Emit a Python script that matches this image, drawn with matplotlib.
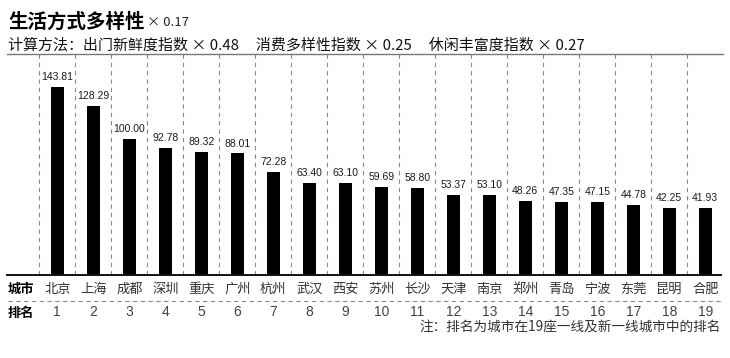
#!/usr/bin/env python3
"""Lifestyle diversity index for 19 tier-1 / new tier-1 cities (bar chart)."""

import matplotlib
matplotlib.use("Agg")
import matplotlib.pyplot as plt
from matplotlib import font_manager
from matplotlib.lines import Line2D
from matplotlib.transforms import blended_transform_factory

CITIES = ["北京", "上海", "成都", "深圳", "重庆", "广州", "杭州", "武汉", "西安", "苏州",
          "长沙", "天津", "南京", "郑州", "青岛", "宁波", "东莞", "昆明", "合肥"]
SCORES = [143.81, 128.29, 100.00, 92.78, 89.32, 88.01, 72.28, 63.40, 63.10, 59.69,
          58.80, 53.37, 53.10, 48.26, 47.35, 47.15, 44.78, 42.25, 41.93]
RANKS = list(range(1, 20))

TITLE = "生活方式多样性"
TITLE_WEIGHT = "× 0.17"
FORMULA = "计算方法：出门新鲜度指数 × 0.48     消费多样性指数 × 0.25     休闲丰富度指数 × 0.27"
NOTE = "注：排名为城市在19座一线及新一线城市中的排名"

W, H = 730, 358
YMIN, YMAX = -14.2, 171.6
CJK = ["Noto Sans CJK SC", "DejaVu Sans"]

# narrow face for the value labels if one is installed, else Liberation Sans
_names = {f.name for f in font_manager.fontManager.ttflist}
if "Liberation Sans Narrow" in _names:
    NUM = dict(family=["Liberation Sans Narrow"], fontsize=8.2)
else:
    NUM = dict(family=["Liberation Sans", "DejaVu Sans"], fontsize=7.5)


def fx(px):
    return px / W


def fy(py):
    return 1 - py / H


def main() -> None:
    plt.rcParams["font.family"] = CJK
    fig = plt.figure(figsize=(W / 100, H / 100), dpi=100)
    fig.patch.set_facecolor("white")

    # plot area: 19 cells of 36 px, from x=39 to 723, y=54 to 275
    ax = fig.add_axes([fx(39.3), fy(275), (723.3 - 39.3) / W, (275 - 54) / H])
    ax.set_xlim(-0.5, len(CITIES) - 0.5)
    ax.set_ylim(YMIN, YMAX)
    ax.axis("off")

    xs = list(range(len(CITIES)))
    for i in xs:
        ax.axvline(i - 0.5, color="#8a8a8a", lw=0.8, dashes=(4, 3.5), clip_on=False, zorder=1)
    # bars rise from the bottom rule, which sits a little below zero
    ax.bar(xs, [v - YMIN for v in SCORES], width=0.36, bottom=YMIN, color="black", zorder=2)
    for x, v in zip(xs, SCORES):
        ax.annotate(f"{v:.2f}", (x, v), xytext=(0, 3.5), textcoords="offset points",
                    ha="center", va="bottom", color="#1a1a1a", **NUM)

    # header
    fig.text(fx(8), fy(22), TITLE, fontsize=14, fontweight="bold", va="center", ha="left")
    fig.text(fx(147), fy(23), TITLE_WEIGHT, fontsize=9.5, va="center", ha="left", color="#222")
    fig.text(fx(8), fy(45), FORMULA, fontsize=10.8, va="center", ha="left", color="#111")

    # rules
    fig.add_artist(Line2D([fx(7), fx(723)], [fy(54), fy(54)], color="#777", lw=1.0))
    fig.add_artist(Line2D([fx(7), fx(721)], [fy(275), fy(275)], color="#111", lw=1.4))
    fig.add_artist(Line2D([fx(8), fx(722)], [fy(300.7), fy(300.7)], color="#888", lw=0.8,
                          dashes=(4, 3)))

    # city and rank rows
    trans = blended_transform_factory(ax.transData, fig.transFigure)
    fig.text(fx(8), fy(289), "城市", fontsize=9.5, fontweight="bold", va="center", ha="left")
    fig.text(fx(8), fy(312.5), "排名", fontsize=9.5, fontweight="bold", va="center", ha="left")
    for x, city, rank in zip(xs, CITIES, RANKS):
        ax.text(x, fy(289), city, transform=trans, fontsize=9.5, ha="center", va="center",
                color="#333")
        ax.text(x, fy(312.5), str(rank), transform=trans, fontsize=10, ha="center",
                va="center", color="#444", family=["Liberation Sans", "DejaVu Sans"])

    fig.text(fx(721), fy(327.5), NOTE, fontsize=9.8, va="center", ha="right", color="#333")

    fig.savefig("out.png", dpi=100)
    plt.close(fig)


if __name__ == "__main__":
    main()
